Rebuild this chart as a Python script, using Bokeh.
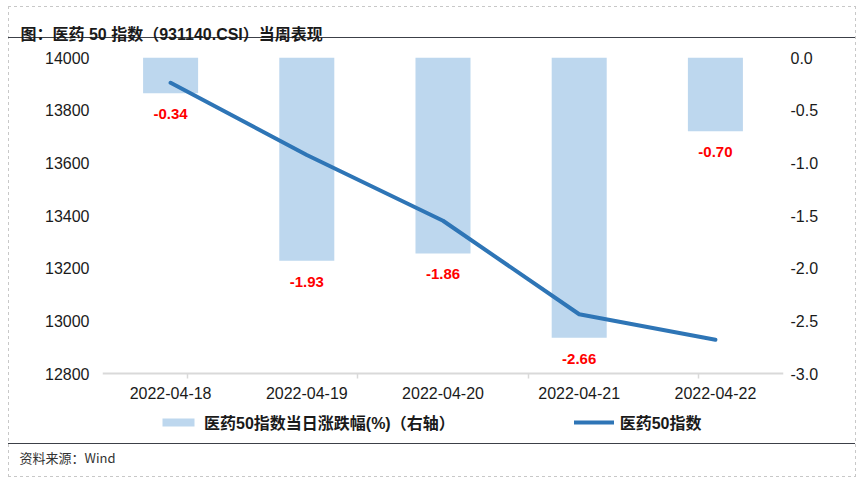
from bokeh.plotting import figure
from bokeh.models import (ColumnDataSource, FactorRange, Range1d, LinearAxis, CategoricalAxis,
                          FixedTicker, NumeralTickFormatter, Legend, LegendItem, Title)
from bokeh.core.properties import value
from bokeh.embed import file_html
from bokeh.resources import INLINE

# ---- data ----
dates = ["2022-04-18", "2022-04-19", "2022-04-20", "2022-04-21", "2022-04-22"]
pct_change = [-0.34, -1.93, -1.86, -2.66, -0.70]
index_close = [13904, 13630, 13380, 13025, 12928]
left_ticks = [12800, 13000, 13200, 13400, 13600, 13800, 14000]
right_ticks = [-3.0, -2.5, -2.0, -1.5, -1.0, -0.5, 0.0]
title_text = "图：医药 50 指数（931140.CSI）当周表现"
source_text = "资料来源：Wind"
bar_name = "医药50指数当日涨跌幅(%)（右轴）"
line_name = "医药50指数"

LAT = "Liberation Sans"
MIX = "Liberation Sans, Noto Sans CJK SC"
INK = "#1a1a1a"

src = ColumnDataSource(dict(
    x=dates, pct=pct_change, idx=index_close,
    lab=[f"{v:.2f}" for v in pct_change],
    base=[left_ticks[0]] * len(dates),
))

# layout (pixels)
W, H = 860, 481
BL, BR, BT = 102, 77, 57
AXIS_Y = 373          # where the value axes end (12800 / -3.0)
FRAME_BOTTOM = 443    # frame extends below the axes to hold the legend
BB = H - FRAME_BOTTOM
ext = (FRAME_BOTTOM - AXIS_Y) / (AXIS_Y - BT)
y_lo = left_ticks[0] - (left_ticks[-1] - left_ticks[0]) * ext
p_lo = right_ticks[0] - (right_ticks[-1] - right_ticks[0]) * ext

# page decoration: separators and dashed frame drawn by CSS behind the transparent canvas
sep = "linear-gradient(#3c4048, #3c4048)"
dash_h = "repeating-linear-gradient(90deg, #c8c8c8 0 3px, transparent 3px 6px)"
dash_v = "repeating-linear-gradient(180deg, #c8c8c8 0 3px, transparent 3px 6px)"
bg = ", ".join([
    f"{sep} 8px 37px / 847px 1px no-repeat",
    f"{sep} 8px 443px / 847px 1px no-repeat",
    f"{dash_h} 8px 6px / 848px 1px no-repeat",
    f"{dash_h} 8px 476px / 848px 1px no-repeat",
    f"{dash_v} 8px 6px / 1px 471px no-repeat",
    f"{dash_v} 855px 6px / 1px 471px no-repeat",
    "white",
])

p = figure(width=W, height=H, x_range=FactorRange(*dates),
           y_range=Range1d(y_lo, left_ticks[-1]),
           output_backend="svg", toolbar_location=None,
           x_axis_location=None, y_axis_location=None,
           min_border_left=BL, min_border_right=BR, min_border_top=BT, min_border_bottom=BB,
           styles={"background": bg})
p.outline_line_color = None
p.xgrid.grid_line_color = None
p.ygrid.grid_line_color = None
p.background_fill_color = None
p.border_fill_color = None
p.extra_y_ranges = {"pct": Range1d(p_lo, right_ticks[-1])}
# boundaries between categories: one factor per edge, range trimmed by half a factor on each side
edge_factors = ["|%d" % i for i in range(len(dates) + 1)]
p.extra_x_ranges = {"edges": FactorRange(*edge_factors, range_padding=-1,
                                         range_padding_units="absolute")}

# title
p.title.text = title_text
p.title.align = "left"
p.title.offset = 20 - BL
p.title.standoff = 26
p.title.vertical_align = "top"
p.title.text_font = MIX
p.title.text_font_size = "16px"
p.title.text_font_style = "bold"
p.title.text_color = INK

# left axis
la = LinearAxis(ticker=FixedTicker(ticks=left_ticks))
la.axis_line_color = None
la.major_tick_line_color = None
la.major_tick_out = 0
la.major_tick_in = 0
la.minor_tick_line_color = None
la.major_label_standoff = 13
la.major_label_text_font = LAT
la.major_label_text_font_size = "16px"
la.major_label_text_color = INK
p.add_layout(la, "left")

# right axis
ra = LinearAxis(y_range_name="pct", ticker=FixedTicker(ticks=right_ticks),
                formatter=NumeralTickFormatter(format="0.0"))
ra.axis_line_color = None
ra.major_tick_line_color = None
ra.major_tick_out = 0
ra.major_tick_in = 0
ra.minor_tick_line_color = None
ra.major_label_standoff = 7
ra.major_label_text_font = LAT
ra.major_label_text_font_size = "16px"
ra.major_label_text_color = INK
p.add_layout(ra, "right")

# category axis line with ticks at category boundaries, placed at the bottom of the value axes
ea = CategoricalAxis(x_range_name="edges", fixed_location=left_ticks[0])
ea.axis_line_color = "#d9d9d9"
ea.axis_line_width = 2
ea.major_tick_line_color = "#d9d9d9"
ea.major_tick_line_width = 1.5
ea.major_tick_in = 0
ea.major_tick_out = 5
ea.minor_tick_line_color = None
ea.major_label_text_font_size = "0px"
ea.major_label_standoff = 0
p.add_layout(ea, "below")

bars = p.vbar(x="x", top=0, bottom="pct", width=0.404, source=src, y_range_name="pct",
              fill_color="#bdd7ee", line_color=None)
ln = p.line(x="x", y="idx", source=src, line_width=4, line_color="#2e75b6",
            line_join="round", line_cap="round")
p.text(x="x", y="pct", text="lab", source=src, y_range_name="pct", y_offset=21,
       text_align="center", text_baseline="middle", text_color="#ff0000",
       text_font=value(LAT), text_font_size="15px", text_font_style="bold")
# category labels under the axis line
p.text(x="x", y="base", text="x", source=src, y_offset=19,
       text_align="center", text_baseline="middle", text_color=INK,
       text_font=value(LAT), text_font_size="16px")

legend = Legend(items=[LegendItem(label=bar_name, renderers=[bars]),
                       LegendItem(label=line_name, renderers=[ln])],
                location=(158 - BL, 9), orientation="horizontal")
legend.padding = 0
legend.margin = 0
legend.spacing = 119
legend.label_standoff = 6
legend.glyph_width = 40
legend.glyph_height = 10
legend.label_height = 20
legend.label_text_font = MIX
legend.label_text_font_size = "16px"
legend.label_text_font_style = "bold"
legend.label_text_color = INK
legend.border_line_color = None
legend.background_fill_alpha = 0
p.add_layout(legend, "center")

# source note
p.add_layout(Title(text=source_text, align="left", offset=19 - BL, standoff=4,
                   text_font="Noto Sans CJK SC", text_font_size="13px",
                   text_font_style="normal", text_color="#333333"), "below")

open("out.html", "w").write(file_html(p, INLINE))
